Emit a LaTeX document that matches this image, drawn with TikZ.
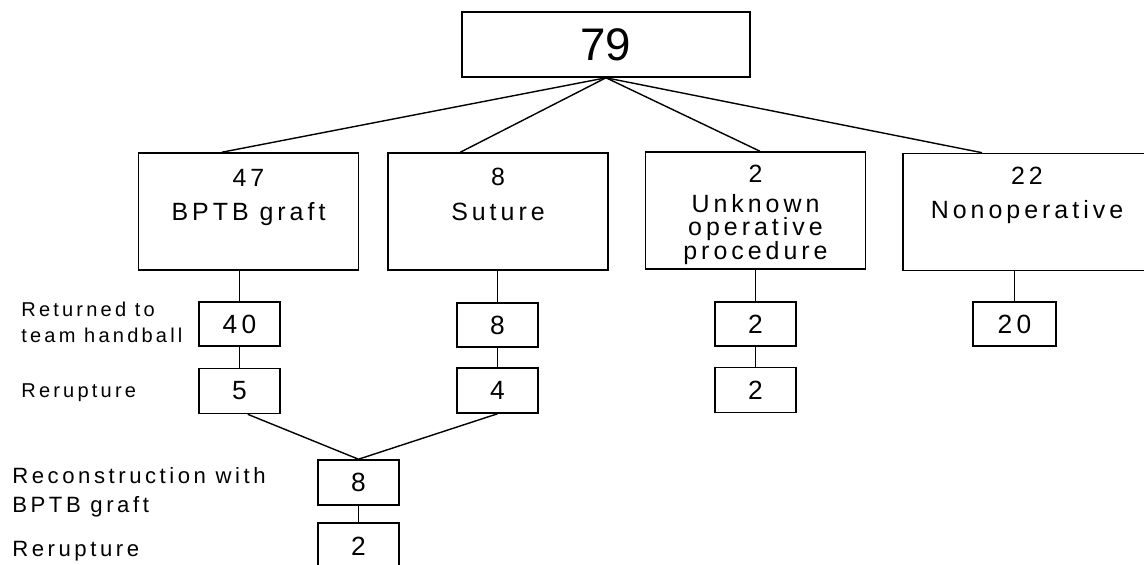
\documentclass[tikz,border=0pt]{standalone}
\usepackage{fontspec}
\setmainfont{Liberation Sans}[LetterSpace=16]
\newfontfamily\tightfont{Liberation Sans}
\usetikzlibrary{calc}

\tikzset{
  bigbox/.style={draw, line width=0.9pt, minimum width=4.4cm, minimum height=2.34cm},
  box/.style={draw, line width=0.9pt, inner sep=0pt, minimum width=1.62cm, minimum height=0.88cm,
    font=\fontsize{15}{18}\selectfont},
  numtxt/.style={inner sep=0pt, anchor=north, font=\fontsize{14.2}{14}\selectfont},
  grptxt/.style={inner sep=0pt, anchor=north, align=center, font=\fontsize{14.2}{13.4}\selectfont},
  lab/.style={inner sep=0pt, anchor=north west, align=left, font=\fontsize{11.4}{14.8}\selectfont},
  biglab/.style={lab, font=\fontsize{12.6}{16.5}\selectfont},
  link/.style={line width=0.8pt},
}

\begin{document}
\begin{tikzpicture}[x=0.02cm, y=-0.02cm]
\useasboundingbox (0,0) rectangle (1144,565);

% all patients
\node[draw, line width=0.9pt, minimum width=5.76cm, minimum height=1.3cm,
  font=\tightfont\fontsize{26}{30}\selectfont] (all) at (606,44.5) {79};

% treatment groups
\node[bigbox] (bptb) at (248.5,211.5) {};
\node[bigbox] (sut) at (498,211.5) {};
\node[bigbox] (unk) at (755.5,210.5) {};
\node[bigbox, minimum width=4.96cm] (nonop) at (1027,212) {};

\node[numtxt] (bptbn) at (248.5,169) {47};
\node[grptxt] (bptbt) at (248.5,202) {BPTB graft};
\node[numtxt] (sutn) at (498,168) {8};
\node[grptxt] (sutt) at (498,203) {Suture};
\node[numtxt] (unkn) at (755.5,165) {2};
\node[grptxt] (unkt) at (755.5,194) {Unknown\\operative\\procedure};
\node[numtxt] (nonn) at (1027,167) {22};
\node[grptxt] (nont) at (1027,200) {Nonoperative};

% returned and reruptures
\node[box] (ret1) at (239.5,324) {40};
\node[box] (ret2) at (497.5,325) {8};
\node[box] (ret3) at (755.5,324) {2};
\node[box, minimum width=1.66cm] (ret4) at (1014.5,324) {20};

\node[box, minimum height=0.9cm] (rr1) at (239.5,391) {5};
\node[box, minimum height=0.9cm] (rr2) at (497.5,390.5) {4};
\node[box, minimum height=0.9cm] (rr3) at (755.5,390) {2};

\node[box, minimum height=0.9cm] (rec) at (358.5,482.5) {8};
\node[box, minimum height=0.94cm] (rr4) at (358.5,546.5) {2};

% row labels
\node[lab] (lret) at (21,302) {Returned to\\team handball};
\node[lab] (lrr1) at (21,383) {Rerupture};
\node[biglab] (lrec) at (12,467) {Reconstruction with\\BPTB graft};
\node[biglab] (lrr2) at (12,541) {Rerupture};

% links
\draw[link] (all.south) -- ($(bptb.north west)!0.38!(bptb.north east)$);
\draw[link] (all.south) -- ($(sut.north west)!0.33!(sut.north east)$);
\draw[link] (all.south) -- ($(unk.north west)!0.52!(unk.north east)$);
\draw[link] (all.south) -- ($(nonop.north west)!0.32!(nonop.north east)$);

\draw[link] (bptb.south -| ret1) -- (ret1.north);
\draw[link] (sut.south -| ret2) -- (ret2.north);
\draw[link] (unk.south -| ret3) -- (ret3.north);
\draw[link] (nonop.south -| ret4) -- (ret4.north);

\draw[link] (ret1) -- (rr1);
\draw[link] (ret2) -- (rr2);
\draw[link] (ret3) -- (rr3);

\draw[link] ($(rr1.south west)!0.6!(rr1.south east)$) -- (rec.north);
\draw[link] (rr2.south) -- (rec.north);
\draw[link] (rec) -- (rr4);
\end{tikzpicture}
\end{document}
